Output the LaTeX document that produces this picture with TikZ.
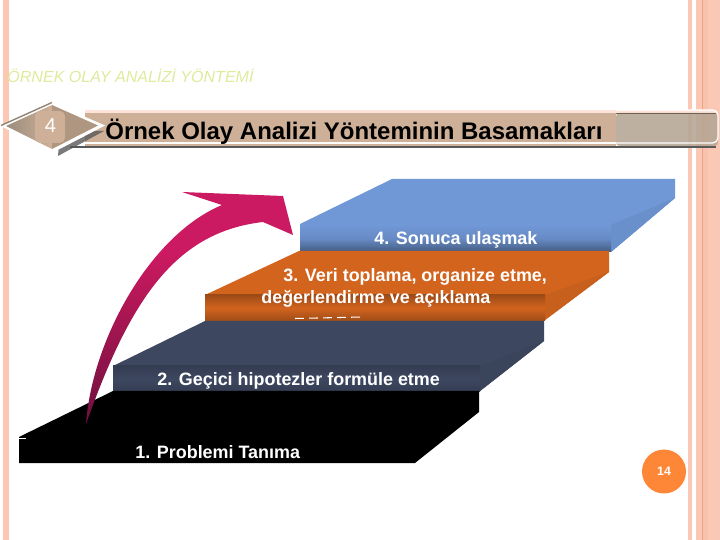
\documentclass[tikz,border=0pt]{standalone}
\usepackage{fontspec}
\setmainfont{Liberation Sans}
\definecolor{stripPink}{HTML}{FBC8B5}
\definecolor{stripLine}{HTML}{F0A283}
\definecolor{bandTan}{HTML}{CDB097}
\definecolor{bandGrey}{HTML}{B5A593}
\definecolor{headGreen}{HTML}{DFEA9C}
\definecolor{blueTop}{HTML}{7097D6}
\definecolor{orangeTop}{HTML}{D2641E}
\definecolor{slateTop}{HTML}{3D4760}
\definecolor{arrowPink}{HTML}{CC1A62}
\definecolor{arrowDark}{HTML}{6E1040}
\definecolor{numOrange}{HTML}{FD8637}
\pgfdeclareverticalshading{arrowfade}{100bp}{color(0bp)=(arrowDark); color(25bp)=(arrowDark); color(50bp)=(arrowPink!85!black); color(62bp)=(arrowPink); color(100bp)=(arrowPink)}
\tikzset{
	steptext/.style={text=white,font=\fontsize{10.2pt}{12pt}\selectfont\bfseries,inner sep=0pt},
	stripfill/.style={fill=stripPink,draw=none},
}
\begin{document}
\begin{tikzpicture}[x=0.02cm,y=-0.02cm]
	\useasboundingbox (0,0) rectangle (720,540);
	% side strips
	\fill[stripfill] (3,0) rectangle (9,540);
	\fill[stripfill] (688,0) rectangle (692,540);
	\fill[stripfill] (696,0) rectangle (720,540);
	\draw[stripLine,line width=0.5pt] (702.5,0) -- (702.5,540);
	\fill[stripPink!85!stripLine] (703,0) rectangle (708,540);
	% heading
	\node[anchor=west,inner sep=0pt,text=headGreen,font=\fontsize{9.15pt}{10pt}\selectfont\itshape] (section) at (7,76) {ÖRNEK OLAY ANALİZİ YÖNTEMİ};
	% banner
	\fill[stripPink!50] (85,110.5) rectangle (716,114);
	\fill[gray!70!black] (70,146) rectangle (716,148.5);
	\fill[bandTan] (85,113) rectangle (616,146.5);
	\fill[bandGrey,opacity=0.88,rounded corners=2pt] (616,113) rectangle (718,146);
	\fill[black!45!bandTan] (616,113) rectangle (716,114.5);
	\draw[white,line width=0.7pt] (85,143) -- (616,143);
	\draw[white,line width=0.7pt,rounded corners=3pt] (616,143) -- (718,143) -- (718,110) -- (616,110);
	% diamond
	\fill[black!65,opacity=0.8] (58,156) -- (104,131) -- (60,130) -- cycle;
	\fill[white] (1,126) -- (52,102.5) -- (105,125.5) -- (52,153) -- cycle;
	\draw[bandGrey!80!black,line width=0.8pt] (1,125.5) -- (52,102.5);
	\shade[left color=bandGrey!85!black,right color=bandTan] (6,126) -- (52,105) -- (52,149) -- cycle;
	\fill[black!15!bandTan] (52,105) -- (98,125.5) -- (52,149) -- cycle;
	\fill[bandTan,rounded corners=3pt] (35,111) rectangle (65,143);
	\node[text=white,inner sep=0pt,font=\fontsize{11.5pt}{12pt}\selectfont] (num) at (50.5,126) {4};
	\node[anchor=west,inner sep=0pt,font=\fontsize{13.65pt}{15pt}\selectfont\bfseries] (title) at (105,132) {Örnek Olay Analizi Yönteminin Basamakları};
	% step 4
	\fill[blueTop] (300,224) -- (392,179) -- (675,179) -- (675,198) -- (611,252) -- (611,225) -- cycle;
	\fill[blueTop!95!black] (611,225) -- (675,198) -- (611,252) -- cycle;
	\shade[top color=blueTop,bottom color=blueTop!60!black,middle color=blueTop!92!black] (300,225) rectangle (611,252);
	% step 3
	\fill[orangeTop] (205,295) -- (299,251) -- (609,251) -- (609,272) -- (545,320) -- (545,295) -- cycle;
	\fill[orangeTop!95!black] (545,295) -- (609,272) -- (545,320) -- cycle;
	\shade[top color=orangeTop!75!black,bottom color=orangeTop!75!black,middle color=orangeTop] (205,295) rectangle (545,321);
	\draw[white,dashed,line width=0.6pt,dash pattern=on 5pt off 3pt] (295,318.5) -- (362,317);
	% step 2
	\fill[slateTop] (113,366) -- (205,321) -- (544,321) -- (544,341) -- (480,391) -- (480,366) -- cycle;
	\fill[slateTop!95!black] (480,366) -- (544,341) -- (480,391) -- cycle;
	\shade[top color=slateTop!85!black,bottom color=slateTop!85!black,middle color=slateTop] (113,366) rectangle (480,392);
	% step 1
	\fill[black] (19,437) -- (113,391) -- (479,391) -- (479,412) -- (415,463) -- (19,463) -- cycle;
	\draw[white,line width=0.4pt] (19,438) -- (26,438);
	% rising arrow
	\shade[shading=arrowfade]
		(86,424) .. controls (92,340) and (150,235) .. (222,205)
		-- (182,192) -- (283,196) -- (293,235) -- (263,222)
		.. controls (175,232) and (130,300) .. (86,424) -- cycle;
	% step labels
	\node[steptext,anchor=west] (find) at (374,239.5) {4. Sonuca ulaşmak};
	\node[steptext,anchor=west] (collecta) at (283,276.5) {3. Veri toplama, organize etme,};
	\node[steptext,anchor=west] (collectb) at (261,298.5) {değerlendirme ve açıklama};
	\node[steptext,anchor=west] (hypo) at (157,381) {2. Geçici hipotezler formüle etme};
	\node[steptext,anchor=west] (problem) at (135,452) {1. Problemi Tanıma};
	% page number
	\node[circle,fill=numOrange,text=white,minimum size=0.88cm,inner sep=0pt,font=\fontsize{7pt}{8pt}\selectfont\bfseries] (page) at (664,471.5) {14};
\end{tikzpicture}
\end{document}
